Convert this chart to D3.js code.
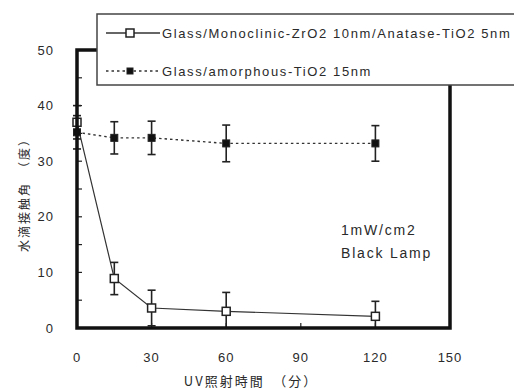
<!DOCTYPE html>
<html>
<head>
<meta charset="utf-8">
<script src="https://cdn.jsdelivr.net/npm/d3@7"></script>
<style>
  body { margin: 0; background: #fff; }
  text { font-family: "Liberation Sans", Arial, sans-serif; fill: #2a2a2a; }
</style>
</head>
<body>
<div id="chart"></div>
<script>
// UV irradiation time (min)
const times = [0, 15, 30, 60, 120];
// Glass/Monoclinic-ZrO2 10nm/Anatase-TiO2 5nm
const zrTiValues = [37.0, 8.9, 3.6, 3.0, 2.1];
const zrTiErrors = [3.0, 2.9, 3.2, 3.4, 2.7];
// Glass/amorphous-TiO2 15nm
const amorphValues = [35.2, 34.2, 34.2, 33.2, 33.2];
const amorphErrors = [3.0, 2.9, 3.0, 3.3, 3.2];

const xTicks = [0, 30, 60, 90, 120, 150];
const yTicks = [0, 10, 20, 30, 40, 50];
const yMinor = d3.range(0, 51, 5);

const seriesNames = [
  "Glass/Monoclinic-ZrO2 10nm/Anatase-TiO2 5nm",
  "Glass/amorphous-TiO2 15nm"
];

const W = 514, H = 390;
const svg = d3.select("#chart").append("svg")
  .attr("width", W)
  .attr("height", H);

const x = d3.scaleLinear().domain([0, 150]).range([77, 450]);
const y = d3.scaleLinear().domain([0, 50]).range([328, 50]);

const series = [
  { values: zrTiValues, errors: zrTiErrors, dash: null, open: true },
  { values: amorphValues, errors: amorphErrors, dash: "2.5,3", open: false }
];

// inner ticks on y axis
svg.selectAll(".ytick")
  .data(yMinor)
  .enter().append("line")
  .attr("x1", x(0)).attr("x2", x(0) + 5)
  .attr("y1", d => y(d)).attr("y2", d => y(d))
  .attr("stroke", "#222").attr("stroke-width", 1.2);

// inner ticks on x axis
svg.selectAll(".xtick")
  .data(xTicks.slice(1, -1))
  .enter().append("line")
  .attr("x1", d => x(d)).attr("x2", d => x(d))
  .attr("y1", y(0)).attr("y2", y(0) - 5)
  .attr("stroke", "#222").attr("stroke-width", 1.2);

// tick labels
svg.selectAll(".ylab")
  .data(yTicks)
  .enter().append("text")
  .attr("x", 54)
  .attr("y", d => y(d))
  .attr("dy", "0.36em")
  .attr("text-anchor", "end")
  .attr("font-size", "13px")
  .attr("letter-spacing", "1px")
  .text(d => d);

svg.selectAll(".xlab")
  .data(xTicks)
  .enter().append("text")
  .attr("x", d => x(d))
  .attr("y", 362)
  .attr("text-anchor", "middle")
  .attr("font-size", "13px")
  .attr("letter-spacing", "1px")
  .text(d => d);

// axis titles
svg.append("text")
  .attr("x", 251)
  .attr("y", 386)
  .attr("text-anchor", "middle")
  .attr("font-size", "13px")
  .attr("letter-spacing", "2px")
  .style("font-family", "'Noto Sans CJK JP', sans-serif")
  .text("UV照射時間　（分）");

svg.append("text")
  .attr("transform", "translate(29,192) rotate(-90)")
  .attr("text-anchor", "middle")
  .attr("font-size", "12px")
  .attr("letter-spacing", "2px")
  .style("font-family", "'Noto Sans CJK JP', sans-serif")
  .text("水滴接触角　（度）");

// data lines
const line = d3.line()
  .x((d, i) => x(times[i]))
  .y(d => y(d));

series.forEach(s => {
  svg.append("path")
    .datum(s.values)
    .attr("d", line)
    .attr("fill", "none")
    .attr("stroke", "#333")
    .attr("stroke-width", s.open ? 1.2 : 1.4)
    .attr("stroke-dasharray", s.dash);

  const g = svg.append("g");
  s.values.forEach((v, i) => {
    const cx = x(times[i]);
    const lo = Math.max(0, v - s.errors[i]);
    const hi = v + s.errors[i];
    g.append("line")
      .attr("x1", cx).attr("x2", cx)
      .attr("y1", y(lo)).attr("y2", y(hi))
      .attr("stroke", "#222").attr("stroke-width", 1.6);
    [lo, hi].forEach(e => {
      if (e <= 0) return;
      g.append("line")
        .attr("x1", cx - 4).attr("x2", cx + 4)
        .attr("y1", y(e)).attr("y2", y(e))
        .attr("stroke", "#222").attr("stroke-width", 1.6);
    });
  });
});

// markers
series.forEach(s => {
  const sz = s.open ? 8 : 7;
  svg.selectAll(null)
    .data(s.values)
    .enter().append("rect")
    .attr("x", (d, i) => x(times[i]) - sz / 2)
    .attr("y", d => y(d) - sz / 2)
    .attr("width", sz).attr("height", sz)
    .attr("fill", s.open ? "#fff" : "#111")
    .attr("stroke", "#222")
    .attr("stroke-width", s.open ? 1.5 : 1);
});

// frame: left + bottom axis, right border, top stub
svg.append("path")
  .attr("d", `M${x(0) + 20},${y(50)} H${x(0)} V${y(0)} H${x(150)} V85`)
  .attr("fill", "none")
  .attr("stroke", "#111")
  .attr("stroke-width", 3.5);

// legend
const leg = svg.append("g");
leg.append("rect")
  .attr("x", 97).attr("y", 14)
  .attr("width", 440).attr("height", 71)
  .attr("fill", "#fff")
  .attr("stroke", "#444")
  .attr("stroke-width", 1.5);

const legY = [33, 71];
series.forEach((s, i) => {
  leg.append("line")
    .attr("x1", 106).attr("x2", 160)
    .attr("y1", legY[i]).attr("y2", legY[i])
    .attr("stroke", "#333")
    .attr("stroke-width", 1.4)
    .attr("stroke-dasharray", s.dash);
  const sz = s.open ? 8 : 6;
  leg.append("rect")
    .attr("x", 130 - sz / 2).attr("y", legY[i] - sz / 2)
    .attr("width", sz).attr("height", sz)
    .attr("fill", s.open ? "#fff" : "#111")
    .attr("stroke", "#222")
    .attr("stroke-width", s.open ? 1.5 : 1);
  leg.append("text")
    .attr("x", 162)
    .attr("y", legY[i])
    .attr("dy", "0.36em")
    .attr("font-size", "13px")
    .attr("letter-spacing", "1.6px")
    .text(seriesNames[i]);
});

// annotation
svg.append("text")
  .attr("x", 341).attr("y", 235)
  .attr("font-size", "14px")
  .attr("letter-spacing", "1.8px")
  .text("1mW/cm2");
svg.append("text")
  .attr("x", 341).attr("y", 258)
  .attr("font-size", "14px")
  .attr("letter-spacing", "1.8px")
  .text("Black Lamp");
</script>
</body>
</html>
